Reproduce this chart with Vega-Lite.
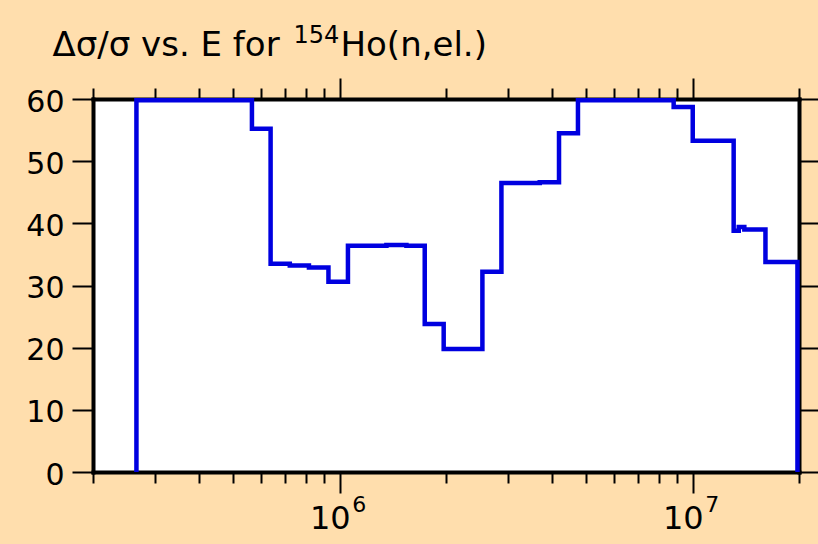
{
  "$schema": "https://vega.github.io/schema/vega-lite/v6.json",
  "width": 706,
  "height": 373,
  "autosize": {"type": "none"},
  "padding": {"left": 93, "top": 99, "right": 19, "bottom": 72},
  "background": "#FFDEAD",
  "config": {
    "view": {"fill": "white", "stroke": null},
    "font": "DejaVu Sans",
    "axis": {"grid": false, "zindex": 0, "domainColor": "black", "domainWidth": 4, "domainCap": "square", "tickColor": "black", "tickWidth": 2, "labelColor": "black", "titleColor": "black", "labelFont": "DejaVu Sans", "titleFont": "DejaVu Sans", "titleFontWeight": "normal"}
  },
  "data": {
    "values": [
      {"E": 265500, "v": 0},
      {"E": 265500, "v": 59.8},
      {"E": 564000, "v": 55.2},
      {"E": 637000, "v": 33.5},
      {"E": 722000, "v": 33.2},
      {"E": 818000, "v": 32.9},
      {"E": 929000, "v": 30.6},
      {"E": 1055000, "v": 36.4},
      {"E": 1190000, "v": 36.4},
      {"E": 1356000, "v": 36.5},
      {"E": 1545000, "v": 36.4},
      {"E": 1741000, "v": 23.8},
      {"E": 1970000, "v": 19.8},
      {"E": 2226000, "v": 19.8},
      {"E": 2536000, "v": 32.2},
      {"E": 2871000, "v": 46.5},
      {"E": 3686000, "v": 46.6},
      {"E": 4180000, "v": 54.5},
      {"E": 4730000, "v": 59.8},
      {"E": 8830000, "v": 58.7},
      {"E": 10000000, "v": 53.3},
      {"E": 13060000, "v": 38.8},
      {"E": 13500000, "v": 39.4},
      {"E": 14000000, "v": 39.0},
      {"E": 16070000, "v": 33.8},
      {"E": 19800000, "v": 0}
    ]
  },
  "layer": [
    {
      "mark": {"type": "line", "interpolate": "step-after", "color": "#0000E0", "strokeWidth": 4.5, "strokeJoin": "miter"},
      "encoding": {
        "x": {
          "field": "E", "type": "quantitative",
          "scale": {"type": "log", "domain": [200000, 20000000], "nice": false},
          "axis": {
            "orient": "bottom", "title": null,
            "values": [200000, 300000, 400000, 500000, 600000, 700000, 800000, 900000, 1000000, 2000000, 3000000, 4000000, 5000000, 6000000, 7000000, 8000000, 9000000, 10000000, 20000000],
            "tickSize": {"condition": {"test": "datum.value == 1000000 || datum.value == 10000000", "value": 21}, "value": 11},
            "labelExpr": "(datum.value == 1000000 || datum.value == 10000000) ? '10' : ''",
            "labelOverlap": false, "labelBound": false, "labelFlush": false,
            "labelFontSize": 32, "labelPadding": 10, "labelOffset": -10
          }
        },
        "y": {
          "field": "v", "type": "quantitative",
          "scale": {"domain": [0, 60], "nice": false, "zero": true},
          "axis": {
            "orient": "left", "title": null,
            "values": [0, 10, 20, 30, 40, 50, 60],
            "tickSize": 21,
            "labelFontSize": 30, "labelPadding": 8, "labelOffset": 3
          }
        }
      }
    },
    {
      "mark": {"type": "line", "interpolate": "step-after", "strokeOpacity": 0},
      "encoding": {
        "x": {
          "field": "E", "type": "quantitative",
          "scale": {"type": "log", "domain": [200000, 20000000], "nice": false},
          "axis": {
            "orient": "top", "labels": false,
            "values": [200000, 300000, 400000, 500000, 600000, 700000, 800000, 900000, 1000000, 2000000, 3000000, 4000000, 5000000, 6000000, 7000000, 8000000, 9000000, 10000000, 20000000],
            "tickSize": {"condition": {"test": "datum.value == 1000000 || datum.value == 10000000", "value": 21}, "value": 11},
            "title": "Ho(n,el.)", "titleX": 247, "titleY": -44, "titleAlign": "left", "titleBaseline": "alphabetic", "titleAngle": 0, "titleAnchor": null, "titleFontSize": 34
          }
        },
        "y": {
          "field": "v", "type": "quantitative",
          "scale": {"domain": [0, 60], "nice": false, "zero": true},
          "axis": {
            "orient": "right", "title": null, "labels": false,
            "values": [0, 10, 20, 30, 40, 50, 60],
            "tickSize": 21
          }
        }
      }
    },
    {
      "mark": {"type": "line", "strokeOpacity": 0},
      "encoding": {
        "x": {
          "field": "E", "type": "quantitative",
          "scale": {"type": "log", "domain": [200000, 20000000], "nice": false},
          "axis": {
            "orient": "bottom", "title": null, "domain": false, "ticks": true, "tickSize": 0, "tickOpacity": 0,
            "values": [1000000, 10000000],
            "labelExpr": "datum.value == 1000000 ? '6' : '7'",
            "labelOverlap": false, "labelBound": false, "labelFlush": false,
            "labelFontSize": 22, "labelPadding": 22, "labelOffset": 19
          }
        },
        "y": {"field": "v", "type": "quantitative", "scale": {"domain": [0, 60], "nice": false, "zero": true}, "axis": null}
      }
    },
    {
      "mark": {"type": "line", "strokeOpacity": 0},
      "encoding": {
        "x": {
          "field": "E", "type": "quantitative",
          "scale": {"type": "log", "domain": [200000, 20000000], "nice": false},
          "axis": {
            "orient": "top", "domain": false, "ticks": false, "labels": false,
            "title": "Δσ/σ vs. E for", "titleX": -41, "titleY": -44, "titleAlign": "left", "titleBaseline": "alphabetic", "titleAngle": 0, "titleAnchor": null, "titleFontSize": 34
          }
        },
        "y": {"field": "v", "type": "quantitative", "scale": {"domain": [0, 60], "nice": false, "zero": true}, "axis": null}
      }
    },
    {
      "mark": {"type": "line", "strokeOpacity": 0},
      "encoding": {
        "x": {
          "field": "E", "type": "quantitative",
          "scale": {"type": "log", "domain": [200000, 20000000], "nice": false},
          "axis": {
            "orient": "top", "domain": false, "ticks": false, "labels": false,
            "title": "154", "titleX": 200, "titleY": -57, "titleAlign": "left", "titleBaseline": "alphabetic", "titleAngle": 0, "titleAnchor": null, "titleFontSize": 24
          }
        },
        "y": {"field": "v", "type": "quantitative", "scale": {"domain": [0, 60], "nice": false, "zero": true}, "axis": null}
      }
    }
  ],
  "resolve": {"axis": {"x": "independent", "y": "independent"}}
}
